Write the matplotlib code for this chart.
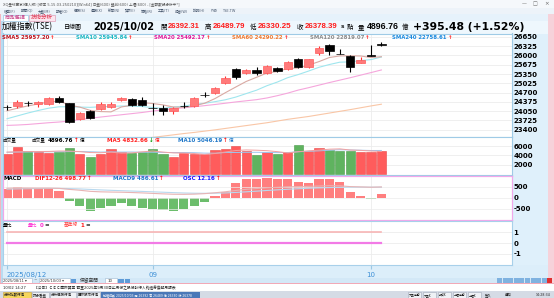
import matplotlib
matplotlib.use("Agg")
import matplotlib.pyplot as plt
from matplotlib.patches import Rectangle

W, H = 554, 298
plt.rcParams['font.family'] = ['DejaVu Sans', 'Noto Sans CJK TC']

# ---- values ----
month_pos = [0, 14, 35]
month_labels = ["2025/08/12", "09", "10"]

opens = [24190, 24227, 24330, 24298, 24298, 24520, 24321, 23759, 24052, 24122,
         24204, 24438, 24473, 24438, 24150, 24146, 24064, 24235, 24239, 24620,
         24672, 25045, 25515, 25396, 25491, 25375, 25572, 25510, 25867, 25586,
         26098, 26368, 26060, 25982, 25726, 26000, 26392.31]
highs = [24263, 24438, 24403, 24415, 24555, 24578, 24344, 24029, 24087, 24380,
         24380, 24555, 24520, 24555, 24321, 24263, 24204, 24380, 24532, 24730,
         24906, 25275, 25551, 25510, 25580, 25667, 25600, 25800, 25900, 25880,
         26333, 26393, 26220, 26000, 25958, 26368, 26489.79]
lows = [24087, 24169, 24227, 24204, 24263, 24321, 23619, 23736, 23771, 24087,
        24146, 24415, 24227, 24227, 23912, 23912, 23947, 24169, 24204, 24555,
        24649, 25010, 25165, 25360, 25306, 25340, 25420, 25490, 25551, 25570,
        26018, 26018, 26040, 25431, 25720, 25975, 26330.25]
closes = [24180, 24380, 24320, 24368, 24497, 24356, 23654, 23970, 23794, 24286,
          24300, 24520, 24263, 24251, 24146, 24052, 24146, 24227, 24497, 24614,
          24871, 25200, 25230, 25491, 25370, 25632, 25456, 25770, 25586, 25867,
          26253, 26168, 26050, 25607, 25835, 25983, 26378.39]

sma5 = [24060, 24150, 24230, 24300, 24367, 24403, 24258, 24189, 24074, 24032,
        24021, 24194, 24252, 24343, 24315, 24266, 24191, 24181, 24231, 24324,
        24488, 24695, 24894, 25089, 25236, 25385, 25436, 25544, 25563, 25662,
        25786, 25929, 25985, 25989, 25983, 25929, 25957.20]
sma10 = [23780, 23880, 23980, 24070, 24150, 24200, 24200, 24190, 24180, 24200,
         24212, 24226, 24221, 24209, 24174, 24144, 24193, 24219, 24289, 24322,
         24380, 24446, 24541, 24663, 24783, 24940, 25069, 25223, 25330, 25454,
         25586, 25683, 25765, 25777, 25821, 25856, 25945.84]
sma20 = [23546, 23560, 23580, 23610, 23640, 23665, 23700, 23750, 23800, 23840,
         23880, 23920, 23960, 24000, 24050, 24090, 24130, 24165, 24200, 24240,
         24280, 24325, 24370, 24410, 24450, 24510, 24590, 24680, 24786, 24870,
         24960, 25050, 25135, 25220, 25310, 25400, 25492.17]
sma60 = [22480, 22520, 22560, 22610, 22660, 22700, 22740, 22790, 22840, 22890,
         22940, 22990, 23030, 23080, 23125, 23170, 23215, 23260, 23300, 23345,
         23390, 23440, 23490, 23540, 23590, 23640, 23700, 23760, 23810, 23860,
         23920, 23980, 24040, 24100, 24165, 24230, 24290.22]
price_ticks = [23400, 23725, 24050, 24375, 24700, 25025, 25350, 25675, 26000, 26325, 26650]

volume = [4290, 5720, 4930, 4650, 4570, 4790, 5650, 4290, 3720, 4360,
          5360, 4650, 4570, 4790, 5290, 4220, 3720, 4430, 4290, 4360,
          5150, 5360, 6000, 4930, 4070, 4650, 4290, 4650, 6220, 5000,
          5500, 5220, 5000, 5000, 4650, 4790, 4896.76]
vol_up = [1, 1, 0, 1, 1, 0, 0, 1, 0, 1, 1, 1, 0, 0, 0, 0, 1, 1, 1, 1,
          1, 1, 1, 1, 0, 1, 0, 1, 0, 1, 1, 0, 0, 0, 1, 1, 1]
vol_ma5 = [4700, 4750, 4800, 4820, 4830, 4930, 4920, 4790, 4600, 4560,
           4680, 4480, 4530, 4750, 4930, 4700, 4520, 4490, 4390, 4200,
           4390, 4720, 5030, 5160, 5100, 5000, 4790, 4520, 4780, 4960,
           5130, 5320, 5390, 5140, 5070, 4930, 4832.66]
vol_ma10 = [4650, 4700, 4720, 4740, 4760, 4780, 4800, 4810, 4770, 4700,
            4750, 4700, 4720, 4670, 4670, 4620, 4600, 4610, 4570, 4480,
            4460, 4600, 4620, 4640, 4650, 4620, 4590, 4600, 4770, 4870,
            4960, 5100, 5200, 5150, 5100, 5040, 5046.19]
vol_ticks = [2000, 4000, 6000]

dif = [440, 450, 448, 445, 444, 432, 385, 345, 295, 272, 262, 255, 240, 222, 200,
       178, 160, 156, 165, 188, 228, 275, 335, 390, 425, 462, 480, 505, 512, 528,
       540, 555, 550, 515, 500, 485, 498.77]
macd9 = [400, 410, 418, 424, 428, 430, 421, 406, 384, 362, 342, 325, 308, 291, 273,
         254, 235, 219, 208, 204, 208, 221, 244, 273, 303, 335, 364, 392, 416, 438,
         455, 470, 482, 488, 490, 488, 486.61]
osc = [34, 41, 37, 34, 32, 25, -12, -30, -49, -37, -30, -21, -30, -37, -42, -46,
       -49, -42, -30, -17, 7, 22, 56, 71, 71, 74, 68, 68, 59, 56, 68, 70, 57, 22,
       5, -3, 12.16]
macd_ticks = [-500, 0, 500]

vol_ratio = [0, 0, 0, 0, 0, 0, 0, 0, 0, 0, 0, 0, 0, 0, 0, 0, 0, 0, 0, 0,
             0, 0, 0, 0, 0, 0, 0, 0, 0, 0, 0, 0, 0, 0, 0, 0, 0]
base_line = [1, 1, 1, 1, 1, 1, 1, 1, 1, 1, 1, 1, 1, 1, 1, 1, 1, 1, 1, 1,
             1, 1, 1, 1, 1, 1, 1, 1, 1, 1, 1, 1, 1, 1, 1, 1, 1]
ratio_ticks = [-1, 0, 1]

idx = list(range(len(closes)))

fig = plt.figure(figsize=(W / 100, H / 100), dpi=100)
fig.patch.set_facecolor("#e3f1fb")

bg = fig.add_axes([0, 0, 1, 1])
bg.set_xlim(0, W)
bg.set_ylim(H, 0)
bg.axis("off")


def rect(x0, y0, x1, y1, fc, ec="none", lw=0):
    bg.add_patch(Rectangle((x0, y0), x1 - x0, y1 - y0, facecolor=fc, edgecolor=ec, linewidth=lw))


# window chrome
rect(0, 0, W, 7.5, "#f5f8fb")
rect(0, 7.5, W, 14, "#edf3f9")
rect(0, 14, W, 21, "#e6f2fb")
rect(2, 21, 548, 33.5, "#eef7fd")
rect(3, 14.5, 28, 21, "white", "#9cc8e4", 0.5)
rect(29, 14.5, 55, 21, "#fbe6ef", "#e0a0b8", 0.5)
rect(512, 33.5, 548, 265, "#dff0fb")
rect(0, 14, 1.3, 284, "#f3b7c0")
rect(1.3, 21, 2.6, 284, "#b9dcf2")
rect(548, 14, W, 284, "#f6d2da")
rect(2.6, 265, 548, 277.5, "#dceefa")
rect(2.6, 277.5, 548, 283.5, "#d3e8f7")
rect(2, 278, 32, 283, "white", "#9cb8d0", 0.4)
rect(39, 278, 70, 283, "white", "#9cb8d0", 0.4)
rect(71, 278.5, 76, 283, "#5d9bd8")
rect(105, 278, 117, 283, "white", "#9cb8d0", 0.4)
rect(118, 278.5, 124, 283, "#5d9bd8")
rect(124.5, 278.5, 130, 283, "#5d9bd8")
for k in range(9):
    rect(497 + k * 5.6, 278.3, 502 + k * 5.6, 283, "#7fb2e0")
rect(547, 278.3, 552, 283, "#e03030")
rect(0, 283.3, W, 284, "#f1a9b7")
rect(0, 284, W, 291, "white")
rect(0, 291, W, 298, "#d5dbe5")
rect(3, 292, 31, 297.5, "#f5d65c", "#c8a030", 0.4)
rect(32, 292, 49, 297.5, "#eef1f5", "#a0a8b8", 0.4)
rect(50, 292, 76, 297.5, "#eef1f5", "#a0a8b8", 0.4)
rect(77, 292, 100, 297.5, "#eef1f5", "#a0a8b8", 0.4)
rect(101, 292, 200, 297.5, "#4a78b8")
for k in range(5):
    rect(408 + k * 15, 292, 421 + k * 15, 297.5, "#eef1f5", "#a0a8b8", 0.4)


def panel(y0, y1, edge):
    ax = fig.add_axes([3 / W, 1 - y1 / H, (512 - 3) / W, (y1 - y0) / H])
    ax.set_xlim(-0.385, 48.56)
    ax.set_facecolor("white")
    for s in ax.spines.values():
        s.set_color(edge)
        s.set_linewidth(0.8)
    ax.yaxis.tick_right()
    ax.tick_params(axis="y", length=0, pad=1.2)
    ax.set_xticks(month_pos)
    ax.tick_params(axis="x", length=0, labelbottom=False)
    ax.grid(color="#ececec", lw=0.6)
    ax.set_axisbelow(True)
    return ax


tick_font = dict(fontsize=5, fontweight="bold", color="black")

# price panel
axp = panel(33.5, 136.7, "#9fcbe6")
axp.set_ylim(23150, 26772)
axp.set_yticks(price_ticks, [str(t) for t in price_ticks], **tick_font)
axp.plot(idx, sma60, color="#f9c6a6", lw=0.8, zorder=1)
axp.plot(idx, sma20, color="#f5a6dc", lw=0.8, zorder=1)
axp.plot(idx, sma10, color="#9fe6ee", lw=0.8, zorder=1)
axp.plot(idx, sma5, color="#d9a9a3", lw=0.8, zorder=1)
for i in idx:
    o, h, l, c = opens[i], highs[i], lows[i], closes[i]
    up = c > o
    wick = "#ff3030" if up else "black"
    face = "#ff7a7a" if up else "black"
    edge = "#ff5a5a" if up else "black"
    axp.vlines(i, l, h, color=wick, lw=0.8, zorder=2)
    axp.bar(i, max(abs(c - o), 1), bottom=min(o, c), width=0.8,
            color=face, edgecolor=edge, lw=0.5, zorder=3)

# volume panel
axv = panel(136.7, 174.5, "#9fcbe6")
axv.set_ylim(-107, 7997)
axv.set_yticks(vol_ticks, [str(t) for t in vol_ticks], **tick_font)
axv.bar(idx, volume, width=0.9,
        color=["#ff5c5c" if u else "#5fb35f" for u in vol_up],
        edgecolor=["#e84848" if u else "#4a9a4a" for u in vol_up], lw=0.4, zorder=2)
axv.plot(idx, vol_ma10, color="#9cc6ee", lw=0.7, zorder=3)
axv.plot(idx, vol_ma5, color="#f2a0a0", lw=0.7, zorder=3)

# MACD panel: OSC bars on their own scale, DIF / MACD9 on the labelled scale
axm = panel(175.7, 219.5, "#f0a8ea")
axm.set_ylim(-80.7, 81.4)
axm.set_yticks([])
axm.grid(False)
for m in month_pos:
    axm.axvline(m, color="#ececec", lw=0.6, zorder=0)
axm.bar(idx, osc, width=0.9,
        color=["#ff7f7f" if v >= 0 else "#6cbd6c" for v in osc], lw=0, zorder=2)
axm2 = axm.twinx()
axm2.set_xlim(-0.385, 48.56)
axm2.set_ylim(-1009, 1019)
for s in axm2.spines.values():
    s.set_color("#f0a8ea")
    s.set_linewidth(0.8)
axm2.set_yticks(macd_ticks, [str(t) for t in macd_ticks], **tick_font)
axm2.tick_params(axis="y", length=0, pad=1.2)
axm2.grid(axis="y", color="#ececec", lw=0.5)
axm2.plot(idx, macd9, color="#b8d8ee", lw=0.8)
axm2.plot(idx, dif, color="#e8b4b4", lw=0.8)

# volume ratio panel
axr = panel(221, 265, "#a8d0ea")
axr.set_ylim(-2.03, 2.03)
axr.set_yticks(ratio_ticks, [str(t) for t in ratio_ticks], **tick_font)
axr.plot(idx, base_line, color="#f7b5b5", lw=1.2)
axr.plot(idx, vol_ratio, color="#f27ae6", lw=1.6)
axr.set_xticks(month_pos, month_labels)
axr.tick_params(axis="x", length=3, color="#9cc8e4", labelbottom=True,
                labelsize=5, labelcolor="#3d8fd6", pad=2)
axr.get_xticklabels()[0].set_ha("left")

# text overlay in pixel coordinates
ov = fig.add_axes([0, 0, 1, 1], zorder=10)
ov.set_xlim(0, W)
ov.set_ylim(H, 0)
ov.axis("off")
renderer = fig.canvas.get_renderer()


def put(x, y, s, color="black", size=4.0, bold=True, family=None):
    kw = {"family": family} if family else {}
    t = ov.text(x, y, s, color=color, fontsize=size, fontweight="bold" if bold else "normal",
                ha="left", va="center", **kw)
    return x + t.get_window_extent(renderer).width


def fit(x0, x1, y, s, color="black", bold=False, family=None):
    kw = {"family": family} if family else {}
    t = ov.text(x0, y, s, color=color, fontsize=6, fontweight="bold" if bold else "normal",
                ha="left", va="center", **kw)
    w = t.get_window_extent(renderer).width
    t.set_fontsize(6 * (x1 - x0) / w)


# title bar, toolbar, tabs
put(3, 3.8, "XQ全球贏家(個人版) [版本 5.15.03.250210][Win64] 日盤(600) 盤前(600) 上櫃(600) - [金融數據分析中*]",
    "#555555", 2.6, False)
put(522, 3.6, "—", "#666666", 3.5, False)
put(533, 3.6, "□", "#666666", 3.5, False)
put(544, 3.6, "×", "#666666", 4, False)
menu = ["檔案(F)", "報價(Q)", "大盤(M)", "期權(O)", "個股(S)", "選股(X)", "新聞(N)",
        "資訊(I)", "策略(R)", "工具(T)", "視窗(W)", "說明(H)", "外掛", "TSE.TW"]
mx = 4
for m in menu:
    mx = put(mx, 10.8, m, "#4a5a70", 2.5, False) + 5
fit(5, 26, 17.8, "商品選擇", "#c8458a", False, "Noto Sans CJK TC")
fit(31, 53, 17.8, "技術分析", "#e0304a", False, "Noto Sans CJK TC")

# header row
hy = 26.8
num = ["Liberation Sans", "Noto Sans CJK TC"]
cjk = "Noto Sans CJK TC"
fit(2, 53, hy, "加權指數(TSE)", "black", False, cjk)
fit(64, 82, hy, "日線圖", "black", False, cjk)
fit(93, 155, hy, "2025/10/02", "black", True)
fit(160, 166.5, hy, "開", "black", False, cjk)
fit(168, 200, hy, "26392.31", "#ff1a1a", True, num)
fit(205, 211.5, hy, "高", "black", False, cjk)
fit(213, 246, hy, "26489.79", "#ff1a1a", True, num)
fit(250, 256.5, hy, "低", "black", False, cjk)
fit(258, 292, hy, "26330.25", "#ff1a1a", True, num)
fit(297, 303.5, hy, "收", "black", False, cjk)
fit(305, 338, hy, "26378.39", "#ff1a1a", True, num)
fit(341, 344.5, hy, "s", "black", True, num)
fit(347, 353.5, hy, "點", "black", False, cjk)
fit(358, 364.5, hy, "量", "black", False, cjk)
fit(367, 399, hy, "4896.76", "black", True, num)
fit(402, 408.5, hy, "億", "black", False, cjk)
fit(413, 525, hy, "+395.48 (+1.52%)", "black", True)

# moving-average legend
ly = 37.2
legend = [(2, "SMA5 25957.20", "#c0141e"), (76, "SMA10 25945.84", "#1ab8c4"),
          (154, "SMA20 25492.17", "#e0189a"), (232, "SMA60 24290.22", "#f07a30"),
          (310, "SMA120 22819.07", "#8a8a8a"), (392, "SMA240 22758.61", "#1a8ae0")]
for x0, s, col in legend:
    e = put(x0, ly, s, col, 3.9)
    put(e + 1, ly, "↑", "#ff1a1a", 3.9)

# volume header
vy = 140.8
put(3, vy, "成交量", "black", 3.3, False)
e = put(32, vy, "成交量", "black", 3.3, False)
e = put(e + 2, vy, "4896.76", "black", 4.0)
e = put(e + 1, vy, "↑", "#ff1a1a", 4.0)
put(e + 1, vy, "億", "black", 3.3, False)
e = put(107, vy, "MA5 4832.66", "#ff2020", 4.0)
e = put(e + 1, vy, "↓", "#0a9a0a", 4.0)
put(e + 1, vy, "億", "#ff2020", 3.3, False)
e = put(178, vy, "MA10 5046.19", "#1f77c8", 4.0)
e = put(e + 1, vy, "↑", "#ff1a1a", 4.0)
put(e + 1, vy, "億", "#1f77c8", 3.3, False)

# MACD header
my = 178.6
put(3, my, "MACD", "black", 4.0)
e = put(35, my, "DIF12-26 498.77", "#ff2020", 4.0)
put(e + 1, my, "↑", "#ff1a1a", 4.0)
e = put(113, my, "MACD9 486.61", "#1f77c8", 4.0)
put(e + 1, my, "↑", "#ff1a1a", 4.0)
e = put(183, my, "OSC 12.16", "#1a1aff", 4.0)
put(e + 1, my, "↑", "#ff1a1a", 4.0)

# volume ratio header
ry = 225.2
put(3, ry, "量比", "black", 3.4, False)
e = put(28, ry, "量比", "#ff2ed2", 3.4, False)
e = put(e + 2, ry, "0", "#ff2ed2", 4.0)
put(e + 1, ry, "=", "#333333", 4.0)
e = put(64, ry, "基準線", "#ff3b3b", 3.4, False)
e = put(e + 2, ry, "1", "#ff1a1a", 4.0)
put(e + 1, ry, "=", "#333333", 4.0)

# date range controls
put(3, 280.8, "2025/08/11 ▾", "#333333", 2.6, False)
put(33.5, 280.8, "~", "#333333", 3, False)
put(40, 280.8, "2025/10/03 ▾", "#333333", 2.6, False)
put(80, 280.8, "保留空間", "#333333", 3.4, False)
put(108, 280.8, "10", "#333333", 2.8, False)

# news line and task bar
put(3, 287.6, "10/02 14:27", "#222222", 2.7, False)
put(34, 287.6, "【公告】ＣＥＣ國際興業 截至2025年9月30日止月份之股份發行人的證券變動月報表", "#222222", 2.7, False)
put(4, 294.8, "分析指數行情", "#222222", 2.5, False)
put(33, 294.8, "評分看盤", "#222222", 2.5, False)
put(51, 294.8, "分析個股行情", "#222222", 2.5, False)
put(78, 294.8, "國際股市行情", "#222222", 2.5, False)
put(103, 294.8, "加權指數 2025/10/03 開 26392 高 26489 低 26330 收 26378", "white", 2.2, False)
for k, s in enumerate(["大盤走勢", "大盤K", "期貨K", "上櫃走勢", "上櫃K"]):
    put(409 + k * 15, 294.8, s, "#222222", 2.1, False)
put(485, 294.8, "登入", "#222222", 2.4, False)
put(505, 294.8, "通知", "#222222", 2.4, False)
put(536, 294.8, "14:28:34", "#222222", 2.3, False)

fig.savefig("out.png", dpi=100)
